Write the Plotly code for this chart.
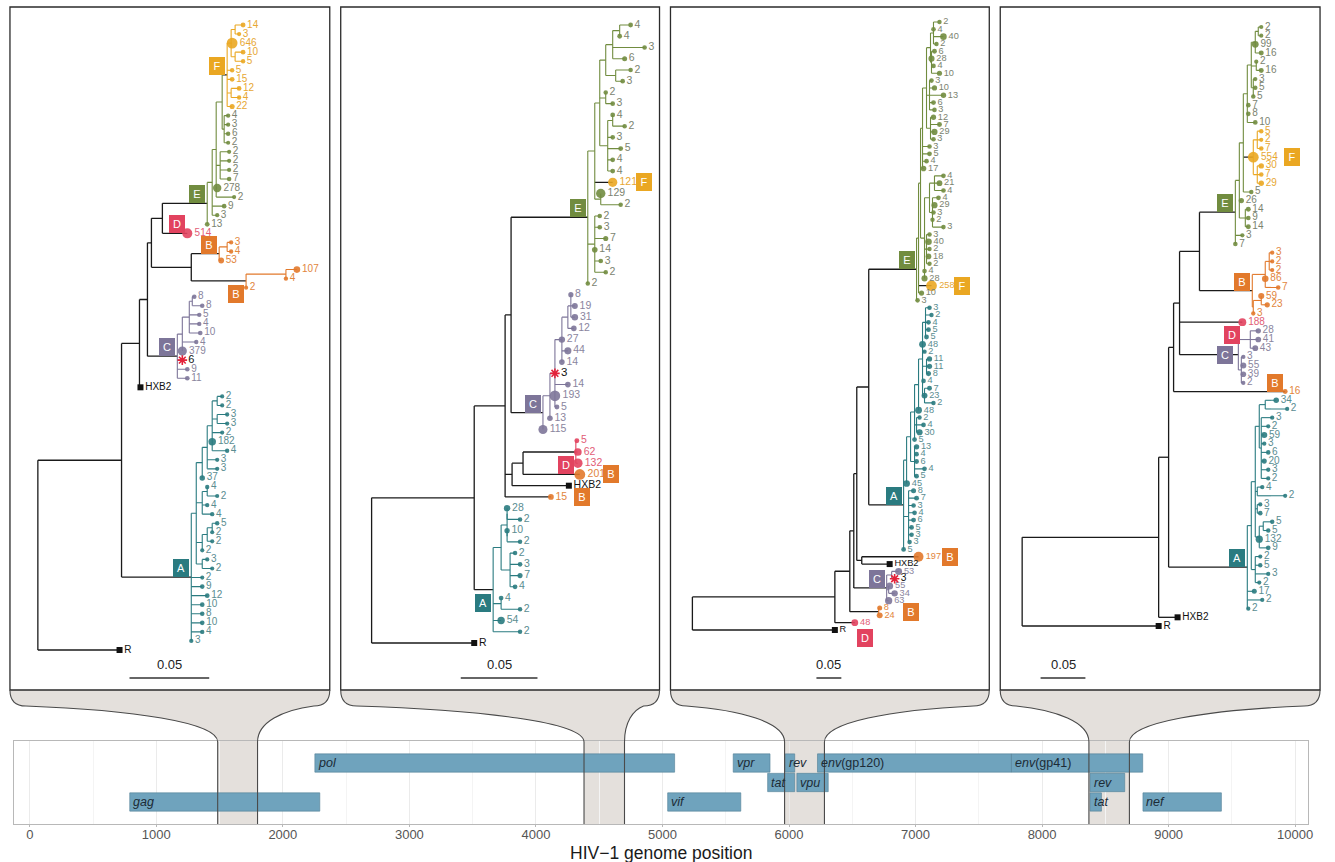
import math
import plotly.graph_objects as go

W, H = 1335, 862
FONT = "Liberation Sans, Arial, sans-serif"

# ---------------- genome map data ----------------
GENE_LABEL = ["<i>gag</i>", "<i>pol</i>", "<i>vif</i>", "<i>vpr</i>", "<i>tat</i>", "<i>rev</i>",
              "<i>vpu</i>", "<i>env</i>(gp120)", "<i>env</i>(gp41)", "<i>rev</i>", "<i>tat</i>", "<i>nef</i>"]
GENE_START = [790, 2253, 5041, 5559, 5831, 5970, 6062, 6225, 7758, 8379, 8379, 8797]
GENE_END = [2292, 5096, 5619, 5850, 6045, 6045, 6310, 7758, 8795, 8653, 8469, 9417]
GENE_ROW = [1, 3, 1, 3, 2, 3, 2, 3, 3, 2, 1, 1]
GENOME_TICKS = [0, 1000, 2000, 3000, 4000, 5000, 6000, 7000, 8000, 9000, 10000]

# genome windows used for each tree
WINDOW_START = [1485, 4380, 5965, 8370]
WINDOW_END = [1800, 4700, 6280, 8690]

# ---------------- trees (Newick; branch lengths in scale-bar units) ----------------
# tip names = number of identical sequences; '#X' marks clade X; '*' marks highlighted tip
SCALE_LEN = 0.05
SCALEBAR_UNITS = [80, 77, 25, 45]  # Newick length units per 0.05 subst./site

# tree 1
T1_F = "(((14:8,3:4):4,646:1,(10:8,5:8):4):4,5:5,15:5,(12:8,4:8):4,22:5)#F<"
T1_E = "((((" + T1_F + ":5,(4:4,3:4,6:4,2:4):2):6,(2:9,2:9,2:9,7:9):4,278:1,2:18):4,9:12,3:5):5,13:0)#E<"
T1_B = "(((3:4,4:4):8,53:2)#B<:28,((107:11,4:0):40,2:0)#BL:55)"
T1_C = "((((8:2,8:10):3,5:10,4:10,10:11):7,4:14,379:0):5,6*:5,9:10,11:10)#C<"
T1_A = ("((((((2:5,2:5):5,(3:10,3:10):5,2:10,182:0,4:15):5,3:10,3:10):5,37:0):6,"
        "((4:0,2:10):5,4:5,4:10):6,(((5:5,2:0):5,2:5):5,2:0):6,(3:5,2:10):6):5,"
        "2:11,9:11,12:16,10:11,8:11,10:11,4:11,3:0)#A<")
TREE1 = ("((((((" + T1_E + ":45,514#D<:25):11," + T1_B + ":40):4," + T1_C +
         ":30):8,HXB2:1):18," + T1_A + ":70):84,R:82);")

# tree 2
T2_E3 = "(((4:11,4:0):7,3:32,6:12):7,(2:15,3:7):10)"
T2_E2 = "(" + T2_E3 + ":6,(2:0,3:7):6,((4:0,2:12):5,3:5,5:13,4:5,4:5):8)"
T2_E1 = "(" + T2_E2 + ":5,121#F>:18,(129:0,2:20):6)"
T2_E = "(" + T2_E1 + ":7,(2:5,3:5,7:11,14:0,3:6,2:11):7,2:0)#E<"
T2_C = "((((((8:0,19:4,31:4):3,12:6):6,27:0,44:6,14:0):7,3*:0,14:13,193:0,5:2):5,13:0):7,115:0)#C<"
T2_D = "(5:1,62:2,132:2)#DL"
T2_A = "((((28:0,2:13):0,(10:0,2:13):0):6,(2:5,3:10,7:10,4:5):9):8,(4:0,2:19):8,54:8,2:27)#AL"
TREE2 = ("((((" + T2_E + ":77," + T2_C + ":32):6,((" + T2_D + ":53,201#B>:57):11,HXB2:57):7,15#B>:46):31,"
         + T2_A + ":19):103,R:103);")

# tree 3
T3_TA = "(((2:6,4:0,40:10,2:3):3,(6:3,28:0,4:2,10:8):1):4,(3:2,10:5,13:14,6:4,3:5):3,(12:3,7:9,29:4,3:3):4)"
T3_TOP = "(" + T3_TA + ":4,3:7,5:7,4:4,17:1)"
T3_BOT = "(((4:9,21:5,4:9):5,(4:6,29:2,3:1,2:0,3:11):3):5,(3:3,40:2,2:3,18:2,2:3):2,4:0,28:0)"
T3_E = "(((" + T3_TOP + ":2," + T3_BOT + ":4):2,258#F>:13,10:3):2,3:1)#E<"
T3_A5 = "((3:4,2:6,4:3,5:3,5:1):3,48:0,2:2,(11:3,11:3,8:2):4,4:1,(7:5,23:0,2:9):2)"
T3_A3 = "((" + T3_A5 + ":4,48:0):4,(2:3,4:7,30:3):2,5:0)"
T3_A = ("(((" + T3_A3 + ":4,(13:2,4:2,6:2,4:10,5:2):4):4,45:0):3,"
        "(8:5,7:8,3:5,4:6,6:5,5:3,3:3,3:1):5,5:0)#A<")
T3_C = "((53:7,3*:3):5,(55:1,34:6):2,63:2)#C<"
T3_BP = "(8:1,24:1)#B>"
TREE3 = ("((((((" + T3_E + ":48," + T3_A + ":35):12,(197#B>:57,HXB2:28):5):3," + T3_C + ":33):4,"
         + T3_BP + ":29):15,48#Dv:20):143,R:143);")

# tree 4
T4_E3 = "((((2:3,2:3):3,99:0,16:6):4,(2:0,16:5):5,(3:2,5:2,5:0):2):4,7:1,8:1,10:8)"
T4_F = "((5:4,2:4,7:4):4,554:0,(30:4,7:4,29:4):4)#F>"
T4_E = "(((" + T4_E3 + ":4," + T4_F + ":10,5:8):4,26:2,(14:3,9:3,14:3):6):4,3:7,7:0)#E<"
T4_B = "(((3:3,2:3,2:3):4,86:0,7:13):13,((59:0,23:6):8,3:0):1)#B<"
T4_C = "((28:8,41:8,43:5):12,(3:2,55:2,39:2,2:2):3)#C-"
T4_A2 = "(((34:11,2:22):6,(3:11,2:7,59:3,3:3,6:7,20:3,3:7,2:7):2):4,(4:5,2:28):2,(3:3,7:3):2,((5:9,5:5):4,132:0,9:9):4)"
T4_A = "((" + T4_A2 + ":4,(2:5,5:5,3:13,2:4):4):4,17:7,2:15,2:1)#A<"
TREE4 = ("((((((" + T4_E + ":36," + T4_B + ":53):20,188#DL:63," + T4_C + ":59):6,16#B<:112):5,"
         + T4_A + ":79):10,HXB2:19):137,R:137);")

TREES = [TREE1, TREE2, TREE3, TREE4]

# ---------------- layout / style ----------------
PANEL_X = [(10, 331), (342, 662), (673, 993), (1004, 1325)]
PANEL_TOP, PANEL_BOTTOM = 7, 690
ROOT_PX = [38, 373, 695, 1026]
TIP_Y = [(25, 650), (25, 643), (22, 630), (27, 626)]
SCALEBAR_CENTER = [170, 501, 832, 1067]
TIP_FONT = [10, 10.5, 9.2, 10]
GEN_X = (14, 1313)
GEN_Y = (741, 824)

LINE_COL = {None: "#1a1a1a", "A": "#2a7b80", "B": "#e2792b", "C": "#7d7599",
            "D": "#e2435f", "E": "#718c3f", "F": "#eaa722"}
LABEL_COL = {None: "#1a1a1a", "A": "#5a8d91", "B": "#e2853c", "C": "#8a859e",
             "D": "#e25d76", "E": "#7b8370", "F": "#e7a733"}
BOX_SHIFT = {"<": (-10, 9), "L": (-10, -13), "v": (10, -15), "-": (-13, 0)}


def parse_newick(s):
    s = s.strip().rstrip(";")
    pos = [0]

    def node():
        n = {"ch": [], "name": "", "bl": 0.0}
        if s[pos[0]] == "(":
            pos[0] += 1
            while True:
                n["ch"].append(node())
                c = s[pos[0]]
                pos[0] += 1
                if c == ")":
                    break
        st = pos[0]
        while pos[0] < len(s) and s[pos[0]] not in ":,)":
            pos[0] += 1
        n["name"] = s[st:pos[0]]
        if pos[0] < len(s) and s[pos[0]] == ":":
            pos[0] += 1
            st = pos[0]
            while pos[0] < len(s) and s[pos[0]] not in ",)":
                pos[0] += 1
            n["bl"] = float(s[st:pos[0]])
        return n

    return node()


def layout_tree(n, x, clade, unit, tips, nodes):
    n["x"] = x
    name = n["name"]
    tag = None
    if "#" in name:
        name, tag = name.split("#")
    n["label"] = name
    n["tag"] = tag
    n["clade"] = tag[0] if tag else clade
    nodes.append(n)
    if n["ch"]:
        for c in n["ch"]:
            layout_tree(c, x + c["bl"] * unit, n["clade"], unit, tips, nodes)
        n["y"] = (n["ch"][0]["y"] + n["ch"][-1]["y"]) / 2.0
        n["maxx"] = max(c["maxx"] for c in n["ch"])
    else:
        n["y"] = len(tips)
        tips.append(n)
        n["maxx"] = x


def collect(n, segs):
    if n["ch"]:
        ys = [c["y"] for c in n["ch"]]
        segs.setdefault(n["clade"], []).append((n["x"], min(ys), n["x"], max(ys)))
        for c in n["ch"]:
            ecol = None if c["tag"] else c["clade"]
            segs.setdefault(ecol, []).append((n["x"], c["y"], c["x"], c["y"]))
            collect(c, segs)


def PX(x):
    return x / W


def PY(y):
    return 1 - y / H


fig = go.Figure()
shapes = []
annotations = []
layout_axes = {}

for k in range(4):
    unit = SCALE_LEN / SCALEBAR_UNITS[k]
    root = parse_newick(TREES[k])
    tips, nodes = [], []
    layout_tree(root, 0.0, None, unit, tips, nodes)
    ntip = len(tips)
    y0, y1 = TIP_Y[k]
    s = (y1 - y0) / (ntip - 1)
    pl, pr = PANEL_X[k]
    rx = ROOT_PX[k]
    xa = "x" if k == 0 else "x%d" % (k + 1)
    ya = "y" if k == 0 else "y%d" % (k + 1)
    xkey = "xaxis" if k == 0 else "xaxis%d" % (k + 1)
    ykey = "yaxis" if k == 0 else "yaxis%d" % (k + 1)
    layout_axes[xkey] = dict(domain=[PX(pl + 1), PX(pr - 1)],
                             range=[-(rx - pl - 1) * unit, (pr - 1 - rx) * unit],
                             visible=False, anchor=ya, fixedrange=True)
    layout_axes[ykey] = dict(domain=[PY(PANEL_BOTTOM), PY(PANEL_TOP)],
                             range=[(PANEL_BOTTOM - y0) / s, (PANEL_TOP - y0) / s],
                             visible=False, anchor=xa, fixedrange=True)

    # branches
    segs = {}
    collect(root, segs)
    for col, lst in segs.items():
        xs, ys = [], []
        for (xa0, ya0, xa1, ya1) in lst:
            xs += [xa0, xa1, None]
            ys += [ya0, ya1, None]
        fig.add_trace(go.Scatter(x=xs, y=ys, mode="lines", xaxis=xa, yaxis=ya,
                                 line=dict(color=LINE_COL[col], width=1.3 if col is None else 1.1),
                                 hoverinfo="skip", showlegend=False))

    # tips
    counts = [int(t["label"].rstrip("*")) for t in tips if t["label"].rstrip("*").isdigit()]
    cmax = max(counts)
    cx, cy, csz, ccol, ctxt, ctcol = [], [], [], [], [], []
    sx, sy, stxt = [], [], []
    qx, qy, qtxt = [], [], []
    for t in tips:
        lab = t["label"]
        if lab in ("HXB2", "R"):
            qx.append(t["x"]); qy.append(t["y"]); qtxt.append(lab)
        elif lab.endswith("*"):
            sx.append(t["x"]); sy.append(t["y"]); stxt.append(lab[:-1])
        else:
            c = int(lab)
            cx.append(t["x"]); cy.append(t["y"])
            csz.append(3.8 + 7.0 * math.sqrt(c / cmax))
            ccol.append(LINE_COL[t["clade"]])
            ctxt.append(lab)
            ctcol.append(LABEL_COL[t["clade"]])
    fs = TIP_FONT[k]
    fig.add_trace(go.Scatter(x=cx, y=cy, mode="markers+text", xaxis=xa, yaxis=ya,
                             marker=dict(size=csz, color=ccol, opacity=0.9, line=dict(width=0)),
                             text=ctxt, textposition="middle right",
                             textfont=dict(size=fs, color=ctcol, family=FONT),
                             cliponaxis=False, hoverinfo="skip", showlegend=False))
    fig.add_trace(go.Scatter(x=qx, y=qy, mode="markers+text", xaxis=xa, yaxis=ya,
                             marker=dict(size=6, color="#111111", symbol="square"),
                             text=qtxt, textposition="middle right",
                             textfont=dict(size=fs, color="#111111", family=FONT),
                             cliponaxis=False, hoverinfo="skip", showlegend=False))
    if sx:
        fig.add_trace(go.Scatter(x=sx, y=sy, mode="markers+text", xaxis=xa, yaxis=ya,
                                 marker=dict(size=8, symbol="asterisk-open", color="#e3223a",
                                             line=dict(color="#e3223a", width=1.6)),
                                 text=stxt, textposition="middle right",
                                 textfont=dict(size=fs + 1, color="#111111", family=FONT),
                                 cliponaxis=False, hoverinfo="skip", showlegend=False))

    # clade boxes
    for n in nodes:
        if not n["tag"]:
            continue
        letter, mode = n["tag"][0], n["tag"][1:]
        col = LINE_COL[letter]
        if mode == ">":
            bx, by, dx, dy = n["maxx"], n["y"], 31, 0
        else:
            bx, by = n["x"], n["y"]
            dx, dy = BOX_SHIFT[mode]
        annotations.append(dict(x=bx, y=by, xref=xa, yref=ya, text=letter, showarrow=False,
                                font=dict(color="white", size=11, family=FONT),
                                bgcolor=col, bordercolor=col, borderwidth=1, borderpad=2,
                                width=10, height=12, xshift=dx, yshift=dy))

    # scale bar
    bc = (SCALEBAR_CENTER[k] - rx) * unit
    ybar = (678 - y0) / s
    fig.add_trace(go.Scatter(x=[bc - SCALE_LEN / 2, bc + SCALE_LEN / 2], y=[ybar, ybar], mode="lines",
                             xaxis=xa, yaxis=ya, line=dict(color="#333333", width=1.3),
                             hoverinfo="skip", showlegend=False, cliponaxis=False))
    annotations.append(dict(x=bc, y=(664 - y0) / s, xref=xa, yref=ya, text="0.05", showarrow=False,
                            font=dict(size=13, color="#222222", family=FONT)))

    # panel border
    shapes.append(dict(type="rect", xref="paper", yref="paper", x0=PX(pl), x1=PX(pr),
                       y0=PY(PANEL_BOTTOM), y1=PY(PANEL_TOP),
                       line=dict(color="#2b2b2b", width=1.3), layer="above"))

# ---------------- genome map ----------------
fig.add_trace(go.Bar(x=[e - b for b, e in zip(GENE_START, GENE_END)], base=GENE_START, y=GENE_ROW,
                     orientation="h", width=0.94, xaxis="x5", yaxis="y5",
                     marker=dict(color="#6fa3bd", line=dict(color="#527f96", width=0.6)),
                     hoverinfo="skip", showlegend=False))
for lab, b, r in zip(GENE_LABEL, GENE_START, GENE_ROW):
    annotations.append(dict(x=b + 12, y=r, xref="x5", yref="y5", text=lab, showarrow=False,
                            xanchor="left", yanchor="middle",
                            font=dict(size=12.5, color="#1c2b36", family=FONT)))

gx_per_px = (10102 + 125) / (GEN_X[1] - GEN_X[0])


def gpx(g):
    return GEN_X[0] + (g + 125) / gx_per_px


layout_axes["xaxis5"] = dict(domain=[PX(GEN_X[0]), PX(GEN_X[1])], range=[-125, 10102], anchor="y5",
                             tickvals=GENOME_TICKS, ticktext=[str(v) for v in GENOME_TICKS],
                             showgrid=True, gridcolor="#ebebeb", gridwidth=1,
                             minor=dict(dtick=500, tick0=0, showgrid=True, gridcolor="#f4f4f4"),
                             showline=True, mirror=True, linecolor="#b8b8b8", linewidth=1,
                             ticks="outside", ticklen=2, tickcolor="#b8b8b8",
                             ticklabelstandoff=-4,
                             tickfont=dict(size=13, color="#555555", family=FONT),
                             zeroline=False, fixedrange=True)
layout_axes["yaxis5"] = dict(domain=[PY(GEN_Y[1]), PY(GEN_Y[0])], range=[-0.13, 4.13], anchor="x5",
                             showticklabels=False, showgrid=False, showline=True, mirror=True,
                             linecolor="#b8b8b8", linewidth=1, zeroline=False, ticks="",
                             fixedrange=True)
annotations.append(dict(x=PX((GEN_X[0] + GEN_X[1]) / 2), y=PY(853), xref="paper", yref="paper",
                        xanchor="center", yanchor="middle",
                        text="HIV\u22121 genome position", showarrow=False,
                        font=dict(size=17.5, color="#1a1a1a", family=FONT)))

# ---------------- funnels linking trees to genome windows ----------------
TOP, R_, YC, YB = PANEL_BOTTOM, 16, 742, GEN_Y[1]
for k in range(4):
    pl, pr = PANEL_X[k]
    bl, br = gpx(WINDOW_START[k]), gpx(WINDOW_END[k])
    sy = TOP + R_
    rsx, lsx = pr - R_, pl + R_
    rc1 = (rsx + 0.55 * (br - rsx), sy + 4)
    rc2 = (br, sy + 0.45 * (YC - sy))
    lc1 = (bl, sy + 0.45 * (YC - sy))
    lc2 = (lsx + 0.55 * (bl - lsx), sy + 4)

    def P(x, y):
        return "%.5f,%.5f" % (PX(x), PY(y))

    fill = ("M " + P(pl, TOP) + " L " + P(pr, TOP) + " Q " + P(pr, sy) + " " + P(rsx, sy) +
            " C " + P(*rc1) + " " + P(*rc2) + " " + P(br, YC) + " L " + P(br, YB) + " L " + P(bl, YB) +
            " L " + P(bl, YC) + " C " + P(*lc1) + " " + P(*lc2) + " " + P(lsx, sy) +
            " Q " + P(pl, sy) + " " + P(pl, TOP) + " Z")
    shapes.append(dict(type="path", xref="paper", yref="paper", path=fill,
                       fillcolor="#e4e0dc", line=dict(width=0), layer="below"))
    outline = ("M " + P(bl, YB) + " L " + P(bl, YC) + " C " + P(*lc1) + " " + P(*lc2) + " " + P(lsx, sy) +
               " Q " + P(pl, sy) + " " + P(pl, TOP) +
               " M " + P(pr, TOP) + " Q " + P(pr, sy) + " " + P(rsx, sy) +
               " C " + P(*rc1) + " " + P(*rc2) + " " + P(br, YC) + " L " + P(br, YB))
    shapes.append(dict(type="path", xref="paper", yref="paper", path=outline,
                       line=dict(color="#4a4a4a", width=1.1), layer="above"))

fig.update_layout(width=W, height=H, margin=dict(l=0, r=0, t=0, b=0, pad=0),
                  paper_bgcolor="white", plot_bgcolor="rgba(0,0,0,0)",
                  showlegend=False, barmode="overlay", shapes=shapes, annotations=annotations,
                  font=dict(family=FONT), **layout_axes)

fig.write_html("out.html", config={"displayModeBar": False},
               post_script="document.body.style.margin='0';document.body.style.padding='0';")
